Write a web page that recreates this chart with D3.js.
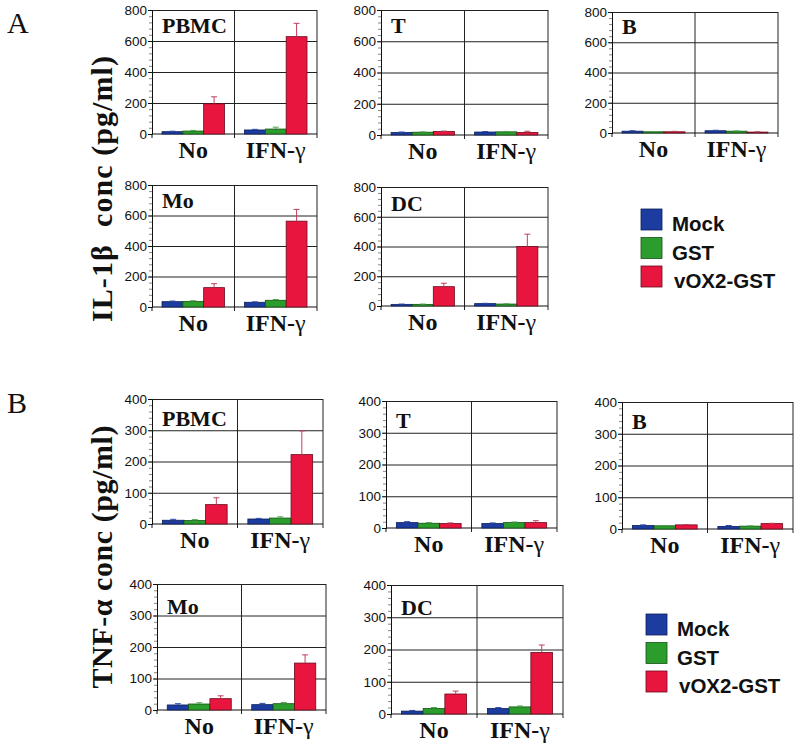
<!DOCTYPE html>
<html>
<head>
<meta charset="utf-8">
<script src="https://cdn.jsdelivr.net/npm/d3@7"></script>
<style>
  body { margin: 0; background: #fff; }
  .tick text { font-family: "Liberation Sans", Arial, sans-serif; font-size: 13.5px; fill: #111; }
</style>
</head>
<body>
<svg id="chart"></svg>
<script>
const width = 800;
const height = 749;

const groups = ["No", "IFN-γ"];
const series = ["Mock", "GST", "vOX2-GST"];
const cells = ["PBMC", "T", "B", "Mo", "DC"];

// IL-1beta (pg/ml), indexed [cell][group]
const il1bMock = [[15, 26], [16, 19], [12, 15], [35, 31], [11, 16]];
const il1bGST = [[19, 32], [18, 20], [8, 12], [37, 44], [11, 13]];
const il1bVOX2 = [[195, 628], [22, 16], [8, 6], [127, 563], [130, 400]];
const il1bMockErr = [[3, 4], [3, 3], [3, 3], [4, 3], [2, 2]];
const il1bGSTErr = [[4, 12], [2, 3], [2, 2], [4, 5], [2, 2]];
const il1bVOX2Err = [[45, 86], [3, 8], [3, 2], [26, 77], [23, 83]];

// TNF-alpha (pg/ml), indexed [cell][group]
const tnfMock = [[12, 16], [17, 14], [11, 8], [16, 17], [9, 17]];
const tnfGST = [[11, 19], [15, 17], [10, 9], [19, 20], [17, 22]];
const tnfVOX2 = [[62, 222], [14, 17], [13, 17], [36, 149], [62, 191]];
const tnfMockErr = [[3, 2], [3, 2], [2, 3], [4, 4], [2, 3]];
const tnfGSTErr = [[3, 4], [2, 2], [1, 1], [4, 4], [3, 3]];
const tnfVOX2Err = [[22, 76], [2, 6], [1, 1], [9, 26], [9, 23]];

const il1bTicks = [0, 200, 400, 600, 800];
const tnfTicks = [0, 100, 200, 300, 400];

const colors = ["#1d3ca0", "#2b9d2c", "#e8163f"];
const strokes = ["#0c1e5a", "#145214", "#6a0a1c"];
const errColors = ["#2a4ab0", "#4aa84a", "#c0405c"];

const serif = '"Liberation Serif", "DejaVu Serif", serif';
const sans = '"Liberation Sans", Arial, sans-serif';

const svg = d3.select("#chart").attr("width", width).attr("height", height);

// panel frames for each cell, part A then part B
const layoutA = [
  { x: 152, y: 10, w: 165, h: 124, ty: 23 },
  { x: 381, y: 10, w: 167, h: 125, ty: 23 },
  { x: 612, y: 12, w: 166, h: 121, ty: 22 },
  { x: 152, y: 185, w: 165, h: 122, ty: 23 },
  { x: 381, y: 187, w: 167, h: 119, ty: 24 },
];
const layoutB = [
  { x: 152, y: 399, w: 171, h: 125, ty: 27 },
  { x: 386, y: 401, w: 171, h: 127, ty: 27 },
  { x: 622, y: 402, w: 171, h: 127, ty: 27 },
  { x: 157, y: 584, w: 169, h: 126, ty: 30 },
  { x: 391, y: 585, w: 172, h: 129, ty: 30 },
];

const drawPanel = (pos, cell, vals, errs, ticks) => {
  const g = svg.append("g").attr("transform", `translate(${pos.x},${pos.y})`);
  const maxV = ticks[ticks.length - 1];
  const step = ticks[1] - ticks[0];

  const y = d3.scaleLinear().domain([0, maxV]).range([pos.h, 0]);
  const x0 = d3.scaleBand().domain(groups).range([0, pos.w]).paddingInner(0).paddingOuter(0);
  const x1 = d3.scaleBand().domain(series).range([0, x0.bandwidth()]).paddingInner(0).paddingOuter(0.48);

  // minor ticks
  g.append("g")
    .call(d3.axisLeft(y).tickValues(d3.range(0, maxV + 0.01, step / 5)).tickSize(3).tickFormat(""))
    .call((a) => a.select(".domain").remove())
    .selectAll("line").attr("stroke", "#555").attr("stroke-width", 0.7);

  // horizontal grid
  g.append("g")
    .call(d3.axisLeft(y).tickValues(ticks.slice(1)).tickSize(-pos.w).tickFormat(""))
    .call((a) => a.select(".domain").remove())
    .selectAll("line").attr("stroke", "#222").attr("stroke-width", 1);

  // middle divider and right border
  g.selectAll(".vline")
    .data([x0(groups[1]), pos.w])
    .enter()
    .append("line")
    .attr("x1", (d) => d).attr("x2", (d) => d)
    .attr("y1", 0).attr("y2", pos.h + 4)
    .attr("stroke", "#222").attr("stroke-width", 1);

  // left axis with labels
  g.append("g")
    .call(d3.axisLeft(y).tickValues(ticks).tickSize(4).tickPadding(1))
    .call((a) => a.select(".domain").attr("stroke", "#111"))
    .selectAll("line").attr("stroke", "#111");

  // bottom axis line and boundary ticks
  g.append("line")
    .attr("x1", 0).attr("x2", pos.w).attr("y1", pos.h).attr("y2", pos.h)
    .attr("stroke", "#111").attr("stroke-width", 1.2);
  g.append("line")
    .attr("x1", 0).attr("x2", 0).attr("y1", pos.h).attr("y2", pos.h + 4)
    .attr("stroke", "#111");

  // bars
  groups.forEach((grp, gi) => {
    const gg = g.append("g").attr("transform", `translate(${x0(grp)},0)`);
    gg.selectAll("rect")
      .data(series)
      .enter()
      .append("rect")
      .attr("x", (s) => x1(s))
      .attr("width", x1.bandwidth())
      .attr("y", (s, si) => y(vals[si][gi]))
      .attr("height", (s, si) => pos.h - y(vals[si][gi]))
      .attr("fill", (s, si) => colors[si])
      .attr("stroke", (s, si) => strokes[si])
      .attr("stroke-width", 0.8);

    // error bars (upper only)
    series.forEach((s, si) => {
      const cx = x1(s) + x1.bandwidth() / 2;
      const top = y(vals[si][gi] + errs[si][gi]);
      gg.append("line")
        .attr("x1", cx).attr("x2", cx)
        .attr("y1", y(vals[si][gi])).attr("y2", top)
        .attr("stroke", errColors[si]).attr("stroke-width", 1);
      gg.append("line")
        .attr("x1", cx - 3).attr("x2", cx + 3)
        .attr("y1", top).attr("y2", top)
        .attr("stroke", errColors[si]).attr("stroke-width", 1);
    });

    // group label
    const t = g.append("text")
      .attr("x", x0(grp) + x0.bandwidth() / 2)
      .attr("y", pos.h + 24)
      .attr("text-anchor", "middle")
      .attr("font-family", serif)
      .attr("font-size", 24)
      .attr("font-weight", "bold")
      .attr("fill", "#111");
    if (grp.endsWith("γ")) {
      t.append("tspan").text(grp.slice(0, -1));
      t.append("tspan").attr("font-weight", "normal").text("γ");
    } else {
      t.text(grp);
    }
  });

  // cell title
  g.append("text")
    .attr("x", 10)
    .attr("y", pos.ty)
    .attr("font-family", serif)
    .attr("font-size", 22)
    .attr("font-weight", "bold")
    .attr("fill", "#111")
    .text(cell);
};

const pick = (a, b, c, i) => [a[i], b[i], c[i]];

cells.forEach((cell, i) => {
  drawPanel(layoutA[i], cell,
    pick(il1bMock, il1bGST, il1bVOX2, i),
    pick(il1bMockErr, il1bGSTErr, il1bVOX2Err, i),
    il1bTicks);
  drawPanel(layoutB[i], cell,
    pick(tnfMock, tnfGST, tnfVOX2, i),
    pick(tnfMockErr, tnfGSTErr, tnfVOX2Err, i),
    tnfTicks);
});

// legends
const drawLegend = (lx, ly, tx) => {
  const lg = svg.append("g");
  series.forEach((s, si) => {
    lg.append("rect")
      .attr("x", lx).attr("y", ly + si * 28.5)
      .attr("width", 21).attr("height", 21)
      .attr("fill", colors[si]).attr("stroke", strokes[si]).attr("stroke-width", 0.8);
    lg.append("text")
      .attr("x", tx + (si === 2 ? 2 : 0)).attr("y", ly + si * 28.5 + 22)
      .attr("font-family", sans).attr("font-size", 20.5).attr("font-weight", "bold")
      .attr("fill", "#111")
      .text(s);
  });
};
drawLegend(641, 209, 672);
drawLegend(646, 614, 677);

// part letters
svg.append("text").attr("x", 7).attr("y", 33)
  .attr("font-family", serif).attr("font-size", 30).attr("fill", "#111").text("A");
svg.append("text").attr("x", 7).attr("y", 413)
  .attr("font-family", serif).attr("font-size", 30).attr("fill", "#111").text("B");

// y titles
svg.append("text")
  .attr("transform", "translate(112,189) rotate(-90)")
  .attr("text-anchor", "middle")
  .attr("font-family", serif).attr("font-size", 30).attr("font-weight", "bold")
  .attr("fill", "#111")
  .attr("textLength", 266).attr("lengthAdjust", "spacing")
  .style("white-space", "pre")
  .text("IL-1β  conc (pg/ml)");
svg.append("text")
  .attr("transform", "translate(112,557) rotate(-90)")
  .attr("text-anchor", "middle")
  .attr("font-family", serif).attr("font-size", 30).attr("font-weight", "bold")
  .attr("fill", "#111")
  .attr("textLength", 263).attr("lengthAdjust", "spacing")
  .text("TNF-α conc (pg/ml)");
</script>
</body>
</html>
